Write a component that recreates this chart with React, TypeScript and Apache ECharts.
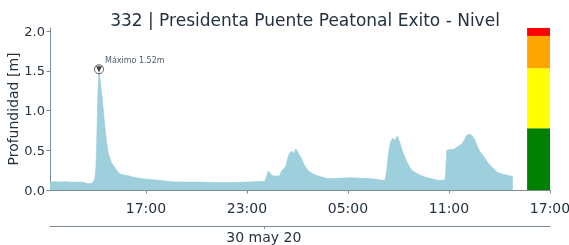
import React, { useEffect, useRef } from "react";
import * as echarts from "echarts";

// hours since 29 May 2020 00:00
const hours = [
  11.3, 11.6, 11.89, 12.2, 12.48, 12.8, 13.08, 13.3, 13.55, 13.79, 13.91, 13.97, 14.03, 14.09, 14.15, 14.21,
  14.27, 14.33, 14.39, 14.45, 14.56, 14.65, 14.76, 14.86, 14.96, 15.1, 15.26, 15.36, 15.46, 15.7, 15.93, 16.2,
  16.52, 16.9, 17.36, 17.9, 18.54, 19.3, 20.21, 21.0, 21.99, 22.59, 23.0, 23.48, 24.07, 24.2, 24.27, 24.4,
  24.55, 24.75, 24.96, 25.05, 25.16, 25.3, 25.45, 25.55, 25.69, 25.78, 25.89, 25.97, 26.05, 26.15, 26.25, 26.35,
  26.45, 26.55, 26.64, 26.8, 26.94, 27.1, 27.34, 27.74, 28.0, 28.33, 28.7, 29.12, 29.6, 30.11, 30.5, 30.9,
  31.1, 31.2, 31.3, 31.4, 31.48, 31.54, 31.62, 31.69, 31.79, 31.86, 31.93, 32.0, 32.09, 32.19, 32.29, 32.39,
  32.49, 32.64, 32.79, 33.0, 33.28, 33.55, 33.87, 34.2, 34.47, 34.65, 34.77, 34.82, 34.87, 35.06, 35.26, 35.4,
  35.56, 35.66, 35.76, 35.9, 36.06, 36.15, 36.25, 36.35, 36.45, 36.55, 36.65, 36.75, 36.85, 37.0, 37.14, 37.29,
  37.44, 37.59, 37.74, 37.9, 38.13, 38.43, 38.6, 38.79,
];
const depth = [
  0.1, 0.105, 0.1, 0.105, 0.1, 0.098, 0.1, 0.097, 0.08, 0.085, 0.12, 0.16, 0.3, 0.75, 1.25, 1.52,
  1.4, 1.28, 1.18, 1.05, 0.8, 0.62, 0.47, 0.4, 0.34, 0.3, 0.25, 0.22, 0.2, 0.19, 0.18, 0.165,
  0.15, 0.14, 0.13, 0.12, 0.105, 0.1, 0.1, 0.095, 0.095, 0.097, 0.1, 0.105, 0.11, 0.2, 0.24, 0.2,
  0.18, 0.175, 0.18, 0.24, 0.26, 0.3, 0.42, 0.47, 0.49, 0.45, 0.52, 0.5, 0.46, 0.43, 0.39, 0.34,
  0.3, 0.27, 0.24, 0.22, 0.2, 0.185, 0.17, 0.147, 0.145, 0.147, 0.15, 0.155, 0.15, 0.147, 0.14, 0.13,
  0.12, 0.125, 0.25, 0.46, 0.56, 0.61, 0.64, 0.65, 0.62, 0.66, 0.68, 0.64, 0.59, 0.52, 0.46, 0.41,
  0.36, 0.3, 0.25, 0.22, 0.19, 0.165, 0.147, 0.13, 0.12, 0.125, 0.13, 0.3, 0.5, 0.51, 0.51, 0.53,
  0.55, 0.57, 0.58, 0.63, 0.69, 0.7, 0.7, 0.69, 0.66, 0.62, 0.57, 0.52, 0.48, 0.44, 0.4, 0.35,
  0.31, 0.28, 0.25, 0.22, 0.2, 0.19, 0.18, 0.17,
];

const xTicks = [17, 23, 29, 35, 41];
const xTickLabels = ["17:00", "23:00", "05:00", "11:00", "17:00"];
const yTicks = [0, 0.5, 1, 1.5, 2];
const dateTicks = [24];
const dateLabels = ["30 may 20"];

const maxTime = 14.21;
const maxValue = 1.52;
const maxLabel = "Máximo 1.52m";

// alert levels (m)
const levelBounds = [0, 0.777, 1.533, 1.94, 2.04];
const levelColors = ["#008000", "#ffff00", "#ffa500", "#ff0000"];
const barStart = 39.64;
const barEnd = 41;

const FONT = "DejaVu Sans";
const TEXT = "#24323f";
const AXIS = "#7d8b98";

export default function App() {
  const ref = useRef<HTMLDivElement>(null);
  useEffect(() => {
    if (!ref.current) return;
    const chart = echarts.init(ref.current, undefined, { renderer: "svg" });
    const series = hours.map((h, i) => [h, depth[i]]);
    const areas = levelColors.map((c, i) => [
      { xAxis: barStart, yAxis: levelBounds[i], itemStyle: { color: c, opacity: 1 } },
      { xAxis: barEnd, yAxis: levelBounds[i + 1] },
    ]);
    chart.setOption({
      animation: false,
      textStyle: { fontFamily: FONT },
      title: {
        text: "332 | Presidenta Puente Peatonal Exito - Nivel",
        left: 300,
        textAlign: "center",
        top: 6,
        textStyle: { fontFamily: FONT, fontSize: 17, fontWeight: "normal", color: TEXT },
      },
      grid: { left: 50, right: 19, top: 28, bottom: 55, containLabel: false, outerBoundsMode: "none" },
      xAxis: [
        {
          type: "value",
          min: 11.3,
          max: 41,
          splitLine: { show: false },
          axisLine: { show: true, onZero: false, lineStyle: { color: AXIS, width: 1 } },
          axisTick: { show: true, length: 3.5, customValues: xTicks, lineStyle: { color: AXIS } },
          axisLabel: {
            customValues: xTicks,
            formatter: (v: number) => xTickLabels[xTicks.indexOf(v)] ?? "",
            fontSize: 14,
            color: TEXT,
            margin: 11,
            fontFamily: FONT,
          },
        },
        {
          type: "value",
          position: "bottom",
          offset: 36,
          min: 11.3,
          max: 41,
          splitLine: { show: false },
          axisLine: { show: true, onZero: false, lineStyle: { color: AXIS, width: 1 } },
          axisTick: { show: true, length: 3, customValues: dateTicks, lineStyle: { color: AXIS } },
          axisLabel: {
            customValues: dateTicks,
            formatter: (v: number) => dateLabels[dateTicks.indexOf(v)] ?? "",
            fontSize: 14,
            color: TEXT,
            margin: 4,
            fontFamily: FONT,
          },
        },
      ],
      yAxis: {
        type: "value",
        min: 0,
        max: 2.04,
        name: "Profundidad [m]",
        nameLocation: "middle",
        nameGap: 30,
        nameMoveOverlap: false,
        nameTextStyle: { fontSize: 14, color: TEXT, fontFamily: FONT },
        splitLine: { show: false },
        axisLine: { show: true, lineStyle: { color: AXIS, width: 1 } },
        axisTick: { show: true, length: 3.5, customValues: yTicks, lineStyle: { color: AXIS } },
        axisLabel: {
          customValues: yTicks,
          formatter: (v: number) => v.toFixed(1),
          fontSize: 13,
          color: TEXT,
          margin: 5,
          fontFamily: FONT,
        },
      },
      series: [
        {
          type: "line",
          data: series,
          showSymbol: false,
          symbol: "none",
          lineStyle: { width: 0.6, color: "#9ecfdc" },
          areaStyle: { color: "#9ecfdc", opacity: 1 },
          markArea: { silent: true, data: areas },
          z: 2,
        },
        {
          type: "scatter",
          data: [[maxTime, maxValue]],
          symbol: "circle",
          symbolSize: 9,
          itemStyle: { color: "rgba(255,255,255,0.6)", borderColor: "#333", borderWidth: 1 },
          label: {
            show: true,
            formatter: maxLabel,
            position: "right",
            offset: [-4, -9],
            fontSize: 8,
            color: "#1e2b38",
            fontFamily: FONT,
          },
          z: 5,
        },
        {
          type: "scatter",
          data: [[maxTime, maxValue]],
          symbol: "triangle",
          symbolRotate: 180,
          symbolSize: [6, 6],
          itemStyle: { color: "#111" },
          z: 6,
        },
      ],
    });
    return () => chart.dispose();
  }, []);
  return (
    <div
      ref={ref}
      style={{ position: "fixed", left: 0, top: 0, width: 569, height: 245 }}
    />
  );
}
